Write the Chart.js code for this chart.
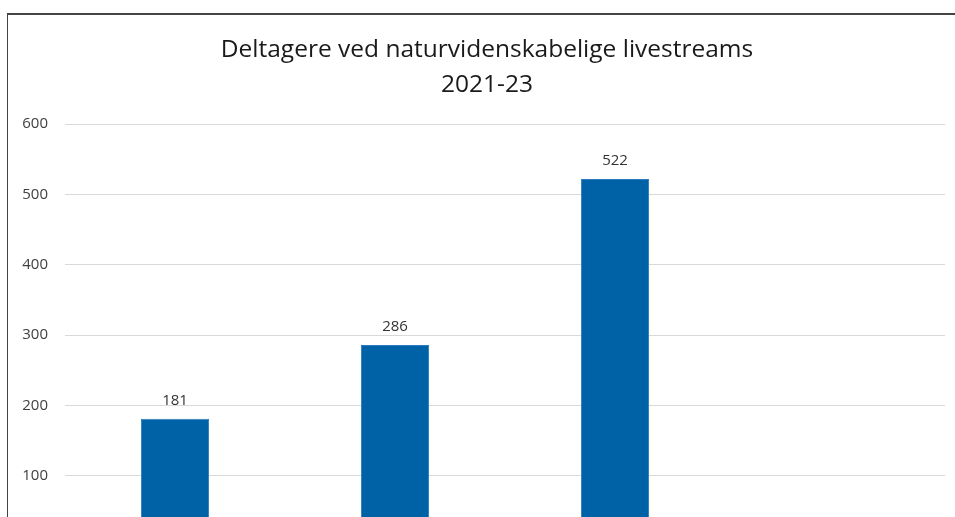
<!DOCTYPE html>
<html>
<head>
<meta charset="utf-8">
<script src="https://cdn.jsdelivr.net/npm/chart.js@4.4.1/dist/chart.umd.min.js"></script>
<style>
    html, body { margin: 0; padding: 0; background: #fff; overflow: hidden; width: 955px; height: 517px; }
    #frame {
        position: absolute; left: 7px; top: 13px;
        width: 970px; height: 620px;
        border-top: 2px solid #444;
        border-left: 1px solid #444;
    }
    #box { position: absolute; left: 0; top: 0; width: 958px; height: 600px; }
</style>
</head>
<body>
<div id="frame"><div id="box"><canvas id="chart"></canvas></div></div>
<script>
// Data
const years = ['2021', '2022', '2023', ''];
const participants = [181, 286, 522, null];
const yTicks = [0, 100, 200, 300, 400, 500, 600];

const fontFamily = "'Open Sans', 'Noto Sans', sans-serif";

// value labels above the bars
const valueLabels = {
    id: 'valueLabels',
    afterDatasetsDraw(chart) {
        const ctx = chart.ctx;
        const meta = chart.getDatasetMeta(0);
        ctx.save();
        ctx.font = '15px ' + fontFamily;
        ctx.fillStyle = '#333';
        ctx.textAlign = 'center';
        ctx.textBaseline = 'middle';
        meta.data.forEach((bar, i) => {
            const v = participants[i];
            if (v == null) return;
            ctx.fillText(String(v), bar.x, bar.y - 18);
        });
        ctx.restore();
    }
};

// centre the title over the whole canvas, not just the padded area
const titleCentre = {
    id: 'titleCentre',
    afterLayout(chart) {
        const t = chart.titleBlock;
        if (!t) return;
        t.left = 0;
        t.right = chart.width;
        t.width = chart.width;
    }
};

const ctx = document.getElementById('chart').getContext('2d');
new Chart(ctx, {
    type: 'bar',
    data: {
        labels: years,
        datasets: [{
            data: participants,
            backgroundColor: '#0062a6',
            borderColor: '#2a7cc0',
            borderWidth: 1,
            borderSkipped: 'bottom',
            categoryPercentage: 1,
            barPercentage: 0.31
        }]
    },
    options: {
        responsive: true,
        maintainAspectRatio: false,
        animation: false,
        layout: { padding: { left: 0, right: 21, top: 0, bottom: 9 } },
        plugins: {
            legend: { display: false },
            tooltip: { enabled: false },
            title: {
                display: true,
                text: ['Deltagere ved naturvidenskabelige livestreams', '2021-23'],
                color: '#1a1a1a',
                font: { family: fontFamily, size: 24.5, weight: 'normal', lineHeight: 1.43 },
                padding: { top: 17, bottom: 22 }
            }
        },
        scales: {
            x: {
                grid: { display: false },
                border: { display: false },
                ticks: { color: '#404040', font: { family: fontFamily, size: 15 } },
                afterFit(scale) { scale.height = 60; }
            },
            y: {
                min: 0,
                max: 600,
                afterBuildTicks(scale) { scale.ticks = yTicks.map(v => ({ value: v })); },
                grid: { color: '#d9d9d9', lineWidth: 1, drawTicks: false },
                border: { display: false },
                ticks: {
                    color: '#404040',
                    padding: 17,
                    font: { family: fontFamily, size: 15 }
                },
                afterFit(scale) { scale.width = 57; }
            }
        }
    },
    plugins: [valueLabels, titleCentre]
});
</script>
</body>
</html>
